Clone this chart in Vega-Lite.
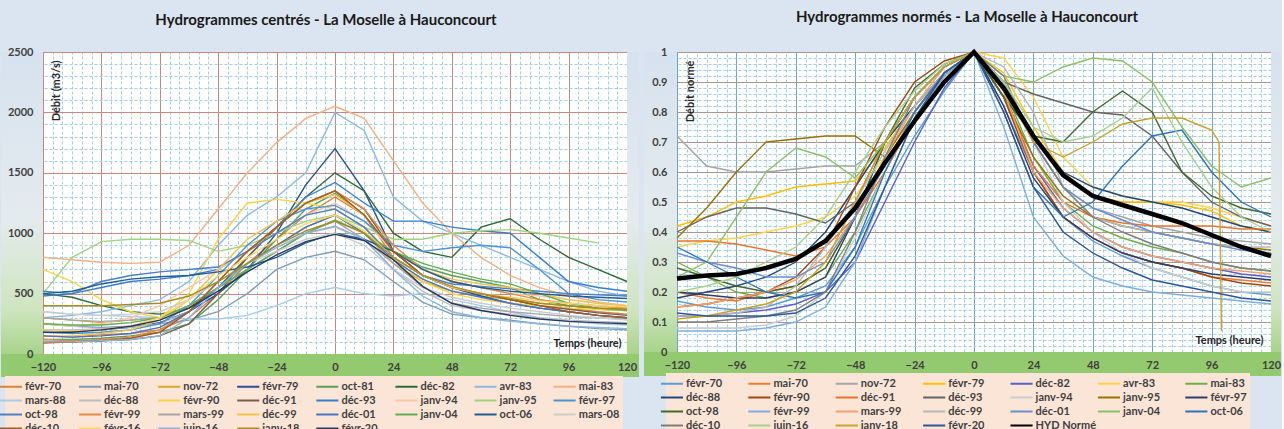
{
"$schema":"https://vega.github.io/schema/vega-lite/v6.json",
"background":"#dbe5f1",
"padding":{"left":0,"top":9,"right":0,"bottom":0},
"spacing":3,
"config":{
 "view":{"fill":"#ffffff","stroke":"#9a9a9a","strokeWidth":1},
 "font":"Lato",
 "axis":{"labelFont":"Lato","labelFontSize":11,"labelFontWeight":"bold","labelColor":"#404040","titleFont":"Lato","titleFontSize":11,"titleFontWeight":"bold","titleColor":"#262626"},
 "legend":{"symbolType":"M-2.4,0H1","symbolSize":169,"symbolStrokeWidth":2,"labelFont":"Lato","labelFontSize":11,"labelFontWeight":"bold","labelColor":"#404040","labelOffset":2,"rowPadding":1,"gridAlign":"all","fillColor":"#fbe5d6","padding":3,"labelLimit":200,"direction":"horizontal"},
 "title":{"font":"Lato","fontSize":15,"fontWeight":"bold","color":"#1a1a1a"}
},
"datasets":{
"L":[
{"s":"févr-70","t":-120,"q":150},{"s":"févr-70","t":-108,"q":140},{"s":"févr-70","t":-96,"q":160},{"s":"févr-70","t":-84,"q":170},{"s":"févr-70","t":-72,"q":200},{"s":"févr-70","t":-60,"q":300},{"s":"févr-70","t":-48,"q":500},{"s":"févr-70","t":-36,"q":750},{"s":"févr-70","t":-24,"q":950},{"s":"févr-70","t":-12,"q":1150},{"s":"févr-70","t":0,"q":1300},{"s":"févr-70","t":12,"q":1150},{"s":"févr-70","t":24,"q":800},{"s":"févr-70","t":36,"q":650},{"s":"févr-70","t":48,"q":550},{"s":"févr-70","t":60,"q":500},{"s":"févr-70","t":72,"q":450},{"s":"févr-70","t":84,"q":400},{"s":"févr-70","t":96,"q":380},{"s":"févr-70","t":108,"q":350},{"s":"févr-70","t":120,"q":330},
{"s":"mai-70","t":-120,"q":250},{"s":"mai-70","t":-108,"q":230},{"s":"mai-70","t":-96,"q":220},{"s":"mai-70","t":-84,"q":230},{"s":"mai-70","t":-72,"q":250},{"s":"mai-70","t":-60,"q":280},{"s":"mai-70","t":-48,"q":350},{"s":"mai-70","t":-36,"q":500},{"s":"mai-70","t":-24,"q":700},{"s":"mai-70","t":-12,"q":800},{"s":"mai-70","t":0,"q":850},{"s":"mai-70","t":12,"q":780},{"s":"mai-70","t":24,"q":600},{"s":"mai-70","t":36,"q":430},{"s":"mai-70","t":48,"q":330},{"s":"mai-70","t":60,"q":300},{"s":"mai-70","t":72,"q":280},{"s":"mai-70","t":84,"q":250},{"s":"mai-70","t":96,"q":230},{"s":"mai-70","t":108,"q":210},{"s":"mai-70","t":120,"q":200},
{"s":"nov-72","t":-120,"q":300},{"s":"nov-72","t":-108,"q":280},{"s":"nov-72","t":-96,"q":260},{"s":"nov-72","t":-84,"q":280},{"s":"nov-72","t":-72,"q":300},{"s":"nov-72","t":-60,"q":380},{"s":"nov-72","t":-48,"q":550},{"s":"nov-72","t":-36,"q":750},{"s":"nov-72","t":-24,"q":900},{"s":"nov-72","t":-12,"q":1050},{"s":"nov-72","t":0,"q":1150},{"s":"nov-72","t":12,"q":1000},{"s":"nov-72","t":24,"q":750},{"s":"nov-72","t":36,"q":600},{"s":"nov-72","t":48,"q":520},{"s":"nov-72","t":60,"q":480},{"s":"nov-72","t":72,"q":450},{"s":"nov-72","t":84,"q":420},{"s":"nov-72","t":96,"q":400},{"s":"nov-72","t":108,"q":380},{"s":"nov-72","t":120,"q":380},
{"s":"févr-79","t":-120,"q":200},{"s":"févr-79","t":-108,"q":190},{"s":"févr-79","t":-96,"q":200},{"s":"févr-79","t":-84,"q":220},{"s":"févr-79","t":-72,"q":260},{"s":"févr-79","t":-60,"q":350},{"s":"févr-79","t":-48,"q":500},{"s":"févr-79","t":-36,"q":700},{"s":"févr-79","t":-24,"q":1000},{"s":"févr-79","t":-12,"q":1400},{"s":"févr-79","t":0,"q":1700},{"s":"févr-79","t":12,"q":1350},{"s":"févr-79","t":24,"q":850},{"s":"févr-79","t":36,"q":650},{"s":"févr-79","t":48,"q":550},{"s":"févr-79","t":60,"q":480},{"s":"févr-79","t":72,"q":420},{"s":"févr-79","t":84,"q":380},{"s":"févr-79","t":96,"q":350},{"s":"févr-79","t":108,"q":320},{"s":"févr-79","t":120,"q":300},
{"s":"oct-81","t":-120,"q":120},{"s":"oct-81","t":-108,"q":120},{"s":"oct-81","t":-96,"q":130},{"s":"oct-81","t":-84,"q":150},{"s":"oct-81","t":-72,"q":180},{"s":"oct-81","t":-60,"q":250},{"s":"oct-81","t":-48,"q":450},{"s":"oct-81","t":-36,"q":700},{"s":"oct-81","t":-24,"q":950},{"s":"oct-81","t":-12,"q":1200},{"s":"oct-81","t":0,"q":1330},{"s":"oct-81","t":12,"q":1150},{"s":"oct-81","t":24,"q":850},{"s":"oct-81","t":36,"q":720},{"s":"oct-81","t":48,"q":650},{"s":"oct-81","t":60,"q":600},{"s":"oct-81","t":72,"q":550},{"s":"oct-81","t":84,"q":450},{"s":"oct-81","t":96,"q":400},{"s":"oct-81","t":108,"q":370},{"s":"oct-81","t":120,"q":360},
{"s":"déc-82","t":-120,"q":500},{"s":"déc-82","t":-108,"q":470},{"s":"déc-82","t":-96,"q":400},{"s":"déc-82","t":-84,"q":350},{"s":"déc-82","t":-72,"q":330},{"s":"déc-82","t":-60,"q":380},{"s":"déc-82","t":-48,"q":550},{"s":"déc-82","t":-36,"q":800},{"s":"déc-82","t":-24,"q":1050},{"s":"déc-82","t":-12,"q":1300},{"s":"déc-82","t":0,"q":1500},{"s":"déc-82","t":12,"q":1350},{"s":"déc-82","t":24,"q":1000},{"s":"déc-82","t":36,"q":850},{"s":"déc-82","t":48,"q":800},{"s":"déc-82","t":60,"q":1050},{"s":"déc-82","t":72,"q":1120},{"s":"déc-82","t":84,"q":950},{"s":"déc-82","t":96,"q":800},{"s":"déc-82","t":108,"q":700},{"s":"déc-82","t":120,"q":600},
{"s":"avr-83","t":-120,"q":300},{"s":"avr-83","t":-108,"q":320},{"s":"avr-83","t":-96,"q":350},{"s":"avr-83","t":-84,"q":400},{"s":"avr-83","t":-72,"q":450},{"s":"avr-83","t":-60,"q":600},{"s":"avr-83","t":-48,"q":900},{"s":"avr-83","t":-36,"q":1150},{"s":"avr-83","t":-24,"q":1300},{"s":"avr-83","t":-12,"q":1500},{"s":"avr-83","t":0,"q":2000},{"s":"avr-83","t":12,"q":1850},{"s":"avr-83","t":24,"q":1300},{"s":"avr-83","t":36,"q":1100},{"s":"avr-83","t":48,"q":1000},{"s":"avr-83","t":60,"q":900},{"s":"avr-83","t":72,"q":800},{"s":"avr-83","t":84,"q":700},{"s":"avr-83","t":96,"q":600},{"s":"avr-83","t":108,"q":520},{"s":"avr-83","t":120,"q":480},
{"s":"mai-83","t":-120,"q":800},{"s":"mai-83","t":-108,"q":780},{"s":"mai-83","t":-96,"q":760},{"s":"mai-83","t":-84,"q":750},{"s":"mai-83","t":-72,"q":760},{"s":"mai-83","t":-60,"q":900},{"s":"mai-83","t":-48,"q":1200},{"s":"mai-83","t":-36,"q":1500},{"s":"mai-83","t":-24,"q":1750},{"s":"mai-83","t":-12,"q":1950},{"s":"mai-83","t":0,"q":2050},{"s":"mai-83","t":12,"q":1950},{"s":"mai-83","t":24,"q":1600},{"s":"mai-83","t":36,"q":1250},{"s":"mai-83","t":48,"q":1000},{"s":"mai-83","t":60,"q":800},{"s":"mai-83","t":72,"q":650},{"s":"mai-83","t":84,"q":550},{"s":"mai-83","t":96,"q":480},{"s":"mai-83","t":108,"q":430},{"s":"mai-83","t":120,"q":400},
{"s":"mars-88","t":-120,"q":350},{"s":"mars-88","t":-108,"q":330},{"s":"mars-88","t":-96,"q":320},{"s":"mars-88","t":-84,"q":310},{"s":"mars-88","t":-72,"q":300},{"s":"mars-88","t":-60,"q":290},{"s":"mars-88","t":-48,"q":290},{"s":"mars-88","t":-36,"q":320},{"s":"mars-88","t":-24,"q":400},{"s":"mars-88","t":-12,"q":500},{"s":"mars-88","t":0,"q":550},{"s":"mars-88","t":12,"q":500},{"s":"mars-88","t":24,"q":480},{"s":"mars-88","t":36,"q":500},{"s":"mars-88","t":48,"q":450},{"s":"mars-88","t":60,"q":400},{"s":"mars-88","t":72,"q":350},{"s":"mars-88","t":84,"q":300},{"s":"mars-88","t":96,"q":270},{"s":"mars-88","t":108,"q":250},{"s":"mars-88","t":120,"q":240},
{"s":"déc-88","t":-120,"q":200},{"s":"déc-88","t":-108,"q":200},{"s":"déc-88","t":-96,"q":210},{"s":"déc-88","t":-84,"q":220},{"s":"déc-88","t":-72,"q":250},{"s":"déc-88","t":-60,"q":350},{"s":"déc-88","t":-48,"q":550},{"s":"déc-88","t":-36,"q":700},{"s":"déc-88","t":-24,"q":850},{"s":"déc-88","t":-12,"q":1000},{"s":"déc-88","t":0,"q":1050},{"s":"déc-88","t":12,"q":950},{"s":"déc-88","t":24,"q":700},{"s":"déc-88","t":36,"q":520},{"s":"déc-88","t":48,"q":400},{"s":"déc-88","t":60,"q":360},{"s":"déc-88","t":72,"q":330},{"s":"déc-88","t":84,"q":300},{"s":"déc-88","t":96,"q":280},{"s":"déc-88","t":108,"q":270},{"s":"déc-88","t":120,"q":260},
{"s":"févr-90","t":-120,"q":700},{"s":"févr-90","t":-108,"q":600},{"s":"févr-90","t":-96,"q":450},{"s":"févr-90","t":-84,"q":350},{"s":"févr-90","t":-72,"q":300},{"s":"févr-90","t":-60,"q":500},{"s":"févr-90","t":-48,"q":950},{"s":"févr-90","t":-36,"q":1250},{"s":"févr-90","t":-24,"q":1280},{"s":"févr-90","t":-12,"q":1250},{"s":"févr-90","t":0,"q":1200},{"s":"févr-90","t":12,"q":1050},{"s":"févr-90","t":24,"q":800},{"s":"févr-90","t":36,"q":600},{"s":"févr-90","t":48,"q":500},{"s":"févr-90","t":60,"q":450},{"s":"févr-90","t":72,"q":420},{"s":"févr-90","t":84,"q":400},{"s":"févr-90","t":96,"q":380},{"s":"févr-90","t":108,"q":370},{"s":"févr-90","t":120,"q":360},
{"s":"déc-91","t":-120,"q":100},{"s":"déc-91","t":-108,"q":100},{"s":"déc-91","t":-96,"q":110},{"s":"déc-91","t":-84,"q":120},{"s":"déc-91","t":-72,"q":150},{"s":"déc-91","t":-60,"q":250},{"s":"déc-91","t":-48,"q":500},{"s":"déc-91","t":-36,"q":800},{"s":"déc-91","t":-24,"q":1050},{"s":"déc-91","t":-12,"q":1250},{"s":"déc-91","t":0,"q":1350},{"s":"déc-91","t":12,"q":1200},{"s":"déc-91","t":24,"q":850},{"s":"déc-91","t":36,"q":650},{"s":"déc-91","t":48,"q":550},{"s":"déc-91","t":60,"q":500},{"s":"déc-91","t":72,"q":450},{"s":"déc-91","t":84,"q":400},{"s":"déc-91","t":96,"q":370},{"s":"déc-91","t":108,"q":340},{"s":"déc-91","t":120,"q":320},
{"s":"déc-93","t":-120,"q":480},{"s":"déc-93","t":-108,"q":500},{"s":"déc-93","t":-96,"q":550},{"s":"déc-93","t":-84,"q":600},{"s":"déc-93","t":-72,"q":620},{"s":"déc-93","t":-60,"q":650},{"s":"déc-93","t":-48,"q":700},{"s":"déc-93","t":-36,"q":850},{"s":"déc-93","t":-24,"q":1050},{"s":"déc-93","t":-12,"q":1300},{"s":"déc-93","t":0,"q":1420},{"s":"déc-93","t":12,"q":1250},{"s":"déc-93","t":24,"q":1100},{"s":"déc-93","t":36,"q":1100},{"s":"déc-93","t":48,"q":1050},{"s":"déc-93","t":60,"q":1020},{"s":"déc-93","t":72,"q":1000},{"s":"déc-93","t":84,"q":800},{"s":"déc-93","t":96,"q":600},{"s":"déc-93","t":108,"q":550},{"s":"déc-93","t":120,"q":520},
{"s":"janv-94","t":-120,"q":250},{"s":"janv-94","t":-108,"q":230},{"s":"janv-94","t":-96,"q":250},{"s":"janv-94","t":-84,"q":300},{"s":"janv-94","t":-72,"q":400},{"s":"janv-94","t":-60,"q":550},{"s":"janv-94","t":-48,"q":700},{"s":"janv-94","t":-36,"q":850},{"s":"janv-94","t":-24,"q":1000},{"s":"janv-94","t":-12,"q":1150},{"s":"janv-94","t":0,"q":1250},{"s":"janv-94","t":12,"q":1100},{"s":"janv-94","t":24,"q":850},{"s":"janv-94","t":36,"q":700},{"s":"janv-94","t":48,"q":600},{"s":"janv-94","t":60,"q":550},{"s":"janv-94","t":72,"q":500},{"s":"janv-94","t":84,"q":480},{"s":"janv-94","t":96,"q":450},{"s":"janv-94","t":108,"q":420},{"s":"janv-94","t":120,"q":400},
{"s":"janv-95","t":-120,"q":500},{"s":"janv-95","t":-108,"q":800},{"s":"janv-95","t":-96,"q":930},{"s":"janv-95","t":-84,"q":950},{"s":"janv-95","t":-72,"q":950},{"s":"janv-95","t":-60,"q":940},{"s":"janv-95","t":-48,"q":850},{"s":"janv-95","t":-36,"q":900},{"s":"janv-95","t":-24,"q":1000},{"s":"janv-95","t":-12,"q":1100},{"s":"janv-95","t":0,"q":1150},{"s":"janv-95","t":12,"q":1050},{"s":"janv-95","t":24,"q":950},{"s":"janv-95","t":36,"q":950},{"s":"janv-95","t":48,"q":1000},{"s":"janv-95","t":60,"q":1020},{"s":"janv-95","t":72,"q":1030},{"s":"janv-95","t":84,"q":1000},{"s":"janv-95","t":96,"q":960},{"s":"janv-95","t":108,"q":920},
{"s":"févr-97","t":-120,"q":180},{"s":"févr-97","t":-108,"q":170},{"s":"févr-97","t":-96,"q":180},{"s":"févr-97","t":-84,"q":200},{"s":"févr-97","t":-72,"q":250},{"s":"févr-97","t":-60,"q":400},{"s":"févr-97","t":-48,"q":650},{"s":"févr-97","t":-36,"q":900},{"s":"févr-97","t":-24,"q":1100},{"s":"févr-97","t":-12,"q":1200},{"s":"févr-97","t":0,"q":1230},{"s":"févr-97","t":12,"q":1100},{"s":"févr-97","t":24,"q":900},{"s":"févr-97","t":36,"q":850},{"s":"févr-97","t":48,"q":880},{"s":"févr-97","t":60,"q":900},{"s":"févr-97","t":72,"q":880},{"s":"févr-97","t":84,"q":700},{"s":"févr-97","t":96,"q":500},{"s":"févr-97","t":108,"q":450},{"s":"févr-97","t":120,"q":430},
{"s":"oct-98","t":-120,"q":520},{"s":"oct-98","t":-108,"q":500},{"s":"oct-98","t":-96,"q":600},{"s":"oct-98","t":-84,"q":650},{"s":"oct-98","t":-72,"q":680},{"s":"oct-98","t":-60,"q":700},{"s":"oct-98","t":-48,"q":720},{"s":"oct-98","t":-36,"q":850},{"s":"oct-98","t":-24,"q":1000},{"s":"oct-98","t":-12,"q":1150},{"s":"oct-98","t":0,"q":1200},{"s":"oct-98","t":12,"q":1050},{"s":"oct-98","t":24,"q":800},{"s":"oct-98","t":36,"q":650},{"s":"oct-98","t":48,"q":580},{"s":"oct-98","t":60,"q":560},{"s":"oct-98","t":72,"q":540},{"s":"oct-98","t":84,"q":520},{"s":"oct-98","t":96,"q":500},{"s":"oct-98","t":108,"q":490},{"s":"oct-98","t":120,"q":480},
{"s":"févr-99","t":-120,"q":120},{"s":"févr-99","t":-108,"q":110},{"s":"févr-99","t":-96,"q":120},{"s":"févr-99","t":-84,"q":140},{"s":"févr-99","t":-72,"q":200},{"s":"févr-99","t":-60,"q":350},{"s":"févr-99","t":-48,"q":600},{"s":"févr-99","t":-36,"q":850},{"s":"févr-99","t":-24,"q":1050},{"s":"févr-99","t":-12,"q":1250},{"s":"févr-99","t":0,"q":1350},{"s":"févr-99","t":12,"q":1200},{"s":"févr-99","t":24,"q":900},{"s":"févr-99","t":36,"q":700},{"s":"févr-99","t":48,"q":600},{"s":"févr-99","t":60,"q":550},{"s":"févr-99","t":72,"q":500},{"s":"févr-99","t":84,"q":450},{"s":"févr-99","t":96,"q":420},{"s":"févr-99","t":108,"q":400},{"s":"févr-99","t":120,"q":380},
{"s":"mars-99","t":-120,"q":300},{"s":"mars-99","t":-108,"q":280},{"s":"mars-99","t":-96,"q":270},{"s":"mars-99","t":-84,"q":280},{"s":"mars-99","t":-72,"q":300},{"s":"mars-99","t":-60,"q":400},{"s":"mars-99","t":-48,"q":550},{"s":"mars-99","t":-36,"q":700},{"s":"mars-99","t":-24,"q":850},{"s":"mars-99","t":-12,"q":1000},{"s":"mars-99","t":0,"q":1100},{"s":"mars-99","t":12,"q":950},{"s":"mars-99","t":24,"q":750},{"s":"mars-99","t":36,"q":560},{"s":"mars-99","t":48,"q":420},{"s":"mars-99","t":60,"q":380},{"s":"mars-99","t":72,"q":350},{"s":"mars-99","t":84,"q":330},{"s":"mars-99","t":96,"q":310},{"s":"mars-99","t":108,"q":300},{"s":"mars-99","t":120,"q":290},
{"s":"déc-99","t":-120,"q":150},{"s":"déc-99","t":-108,"q":150},{"s":"déc-99","t":-96,"q":170},{"s":"déc-99","t":-84,"q":200},{"s":"déc-99","t":-72,"q":280},{"s":"déc-99","t":-60,"q":450},{"s":"déc-99","t":-48,"q":700},{"s":"déc-99","t":-36,"q":950},{"s":"déc-99","t":-24,"q":1100},{"s":"déc-99","t":-12,"q":1250},{"s":"déc-99","t":0,"q":1320},{"s":"déc-99","t":12,"q":1150},{"s":"déc-99","t":24,"q":850},{"s":"déc-99","t":36,"q":700},{"s":"déc-99","t":48,"q":620},{"s":"déc-99","t":60,"q":580},{"s":"déc-99","t":72,"q":550},{"s":"déc-99","t":84,"q":500},{"s":"déc-99","t":96,"q":450},{"s":"déc-99","t":108,"q":420},{"s":"déc-99","t":120,"q":400},
{"s":"déc-01","t":-120,"q":150},{"s":"déc-01","t":-108,"q":140},{"s":"déc-01","t":-96,"q":150},{"s":"déc-01","t":-84,"q":170},{"s":"déc-01","t":-72,"q":220},{"s":"déc-01","t":-60,"q":350},{"s":"déc-01","t":-48,"q":550},{"s":"déc-01","t":-36,"q":750},{"s":"déc-01","t":-24,"q":900},{"s":"déc-01","t":-12,"q":1050},{"s":"déc-01","t":0,"q":1150},{"s":"déc-01","t":12,"q":1000},{"s":"déc-01","t":24,"q":780},{"s":"déc-01","t":36,"q":620},{"s":"déc-01","t":48,"q":520},{"s":"déc-01","t":60,"q":470},{"s":"déc-01","t":72,"q":420},{"s":"déc-01","t":84,"q":380},{"s":"déc-01","t":96,"q":350},{"s":"déc-01","t":108,"q":320},{"s":"déc-01","t":120,"q":300},
{"s":"janv-04","t":-120,"q":250},{"s":"janv-04","t":-108,"q":240},{"s":"janv-04","t":-96,"q":240},{"s":"janv-04","t":-84,"q":260},{"s":"janv-04","t":-72,"q":300},{"s":"janv-04","t":-60,"q":400},{"s":"janv-04","t":-48,"q":550},{"s":"janv-04","t":-36,"q":700},{"s":"janv-04","t":-24,"q":850},{"s":"janv-04","t":-12,"q":1000},{"s":"janv-04","t":0,"q":1110},{"s":"janv-04","t":12,"q":1000},{"s":"janv-04","t":24,"q":850},{"s":"janv-04","t":36,"q":750},{"s":"janv-04","t":48,"q":680},{"s":"janv-04","t":60,"q":620},{"s":"janv-04","t":72,"q":580},{"s":"janv-04","t":84,"q":500},{"s":"janv-04","t":96,"q":420},{"s":"janv-04","t":108,"q":380},{"s":"janv-04","t":120,"q":360},
{"s":"oct-06","t":-120,"q":500},{"s":"oct-06","t":-108,"q":520},{"s":"oct-06","t":-96,"q":580},{"s":"oct-06","t":-84,"q":620},{"s":"oct-06","t":-72,"q":640},{"s":"oct-06","t":-60,"q":650},{"s":"oct-06","t":-48,"q":680},{"s":"oct-06","t":-36,"q":720},{"s":"oct-06","t":-24,"q":800},{"s":"oct-06","t":-12,"q":920},{"s":"oct-06","t":0,"q":1000},{"s":"oct-06","t":12,"q":950},{"s":"oct-06","t":24,"q":850},{"s":"oct-06","t":36,"q":700},{"s":"oct-06","t":48,"q":600},{"s":"oct-06","t":60,"q":550},{"s":"oct-06","t":72,"q":520},{"s":"oct-06","t":84,"q":500},{"s":"oct-06","t":96,"q":480},{"s":"oct-06","t":108,"q":470},{"s":"oct-06","t":120,"q":460},
{"s":"mars-08","t":-120,"q":350},{"s":"mars-08","t":-108,"q":330},{"s":"mars-08","t":-96,"q":320},{"s":"mars-08","t":-84,"q":330},{"s":"mars-08","t":-72,"q":350},{"s":"mars-08","t":-60,"q":450},{"s":"mars-08","t":-48,"q":600},{"s":"mars-08","t":-36,"q":750},{"s":"mars-08","t":-24,"q":850},{"s":"mars-08","t":-12,"q":950},{"s":"mars-08","t":0,"q":1000},{"s":"mars-08","t":12,"q":900},{"s":"mars-08","t":24,"q":700},{"s":"mars-08","t":36,"q":550},{"s":"mars-08","t":48,"q":470},{"s":"mars-08","t":60,"q":420},{"s":"mars-08","t":72,"q":380},{"s":"mars-08","t":84,"q":350},{"s":"mars-08","t":96,"q":320},{"s":"mars-08","t":108,"q":300},{"s":"mars-08","t":120,"q":280},
{"s":"déc-10","t":-120,"q":90},{"s":"déc-10","t":-108,"q":100},{"s":"déc-10","t":-96,"q":110},{"s":"déc-10","t":-84,"q":130},{"s":"déc-10","t":-72,"q":180},{"s":"déc-10","t":-60,"q":350},{"s":"déc-10","t":-48,"q":600},{"s":"déc-10","t":-36,"q":850},{"s":"déc-10","t":-24,"q":1050},{"s":"déc-10","t":-12,"q":1250},{"s":"déc-10","t":0,"q":1350},{"s":"déc-10","t":12,"q":1150},{"s":"déc-10","t":24,"q":850},{"s":"déc-10","t":36,"q":650},{"s":"déc-10","t":48,"q":550},{"s":"déc-10","t":60,"q":500},{"s":"déc-10","t":72,"q":450},{"s":"déc-10","t":84,"q":400},{"s":"déc-10","t":96,"q":350},{"s":"déc-10","t":108,"q":320},{"s":"déc-10","t":120,"q":300},
{"s":"févr-16","t":-120,"q":200},{"s":"févr-16","t":-108,"q":190},{"s":"févr-16","t":-96,"q":200},{"s":"févr-16","t":-84,"q":230},{"s":"févr-16","t":-72,"q":300},{"s":"févr-16","t":-60,"q":450},{"s":"févr-16","t":-48,"q":650},{"s":"févr-16","t":-36,"q":800},{"s":"févr-16","t":-24,"q":950},{"s":"févr-16","t":-12,"q":1080},{"s":"févr-16","t":0,"q":1150},{"s":"févr-16","t":12,"q":1020},{"s":"févr-16","t":24,"q":800},{"s":"févr-16","t":36,"q":650},{"s":"févr-16","t":48,"q":550},{"s":"févr-16","t":60,"q":500},{"s":"févr-16","t":72,"q":470},{"s":"févr-16","t":84,"q":440},{"s":"févr-16","t":96,"q":420},{"s":"févr-16","t":108,"q":400},{"s":"févr-16","t":120,"q":390},
{"s":"juin-16","t":-120,"q":100},{"s":"juin-16","t":-108,"q":100},{"s":"juin-16","t":-96,"q":110},{"s":"juin-16","t":-84,"q":120},{"s":"juin-16","t":-72,"q":150},{"s":"juin-16","t":-60,"q":300},{"s":"juin-16","t":-48,"q":550},{"s":"juin-16","t":-36,"q":750},{"s":"juin-16","t":-24,"q":880},{"s":"juin-16","t":-12,"q":1000},{"s":"juin-16","t":0,"q":1060},{"s":"juin-16","t":12,"q":950},{"s":"juin-16","t":24,"q":700},{"s":"juin-16","t":36,"q":480},{"s":"juin-16","t":48,"q":350},{"s":"juin-16","t":60,"q":300},{"s":"juin-16","t":72,"q":270},{"s":"juin-16","t":84,"q":250},{"s":"juin-16","t":96,"q":230},{"s":"juin-16","t":108,"q":220},{"s":"juin-16","t":120,"q":210},
{"s":"janv-18","t":-120,"q":400},{"s":"janv-18","t":-108,"q":400},{"s":"janv-18","t":-96,"q":400},{"s":"janv-18","t":-84,"q":410},{"s":"janv-18","t":-72,"q":420},{"s":"janv-18","t":-60,"q":480},{"s":"janv-18","t":-48,"q":600},{"s":"janv-18","t":-36,"q":750},{"s":"janv-18","t":-24,"q":900},{"s":"janv-18","t":-12,"q":1020},{"s":"janv-18","t":0,"q":1100},{"s":"janv-18","t":12,"q":1000},{"s":"janv-18","t":24,"q":800},{"s":"janv-18","t":36,"q":650},{"s":"janv-18","t":48,"q":560},{"s":"janv-18","t":60,"q":500},{"s":"janv-18","t":72,"q":460},{"s":"janv-18","t":84,"q":420},{"s":"janv-18","t":96,"q":400},{"s":"janv-18","t":108,"q":380},{"s":"janv-18","t":120,"q":370},
{"s":"févr-20","t":-120,"q":180},{"s":"févr-20","t":-108,"q":180},{"s":"févr-20","t":-96,"q":200},{"s":"févr-20","t":-84,"q":230},{"s":"févr-20","t":-72,"q":280},{"s":"févr-20","t":-60,"q":380},{"s":"févr-20","t":-48,"q":520},{"s":"févr-20","t":-36,"q":680},{"s":"févr-20","t":-24,"q":820},{"s":"févr-20","t":-12,"q":930},{"s":"févr-20","t":0,"q":990},{"s":"févr-20","t":12,"q":940},{"s":"févr-20","t":24,"q":780},{"s":"févr-20","t":36,"q":560},{"s":"févr-20","t":48,"q":420},{"s":"févr-20","t":60,"q":360},{"s":"févr-20","t":72,"q":320},{"s":"févr-20","t":84,"q":290},{"s":"févr-20","t":96,"q":270},{"s":"févr-20","t":108,"q":260},{"s":"févr-20","t":120,"q":250}
],
"R":[
{"s":"févr-70","t":-120,"q":0.17},{"s":"févr-70","t":-108,"q":0.15},{"s":"févr-70","t":-96,"q":0.14},{"s":"févr-70","t":-84,"q":0.15},{"s":"févr-70","t":-72,"q":0.18},{"s":"févr-70","t":-60,"q":0.22},{"s":"févr-70","t":-48,"q":0.35},{"s":"févr-70","t":-36,"q":0.55},{"s":"févr-70","t":-24,"q":0.72},{"s":"févr-70","t":-12,"q":0.87},{"s":"févr-70","t":0,"q":1},{"s":"févr-70","t":12,"q":0.82},{"s":"févr-70","t":24,"q":0.6},{"s":"févr-70","t":36,"q":0.45},{"s":"févr-70","t":48,"q":0.37},{"s":"févr-70","t":60,"q":0.32},{"s":"févr-70","t":72,"q":0.28},{"s":"févr-70","t":84,"q":0.25},{"s":"févr-70","t":96,"q":0.22},{"s":"févr-70","t":108,"q":0.2},{"s":"févr-70","t":120,"q":0.19},
{"s":"mai-70","t":-120,"q":0.2},{"s":"mai-70","t":-108,"q":0.18},{"s":"mai-70","t":-96,"q":0.17},{"s":"mai-70","t":-84,"q":0.2},{"s":"mai-70","t":-72,"q":0.22},{"s":"mai-70","t":-60,"q":0.28},{"s":"mai-70","t":-48,"q":0.45},{"s":"mai-70","t":-36,"q":0.65},{"s":"mai-70","t":-24,"q":0.8},{"s":"mai-70","t":-12,"q":0.92},{"s":"mai-70","t":0,"q":1},{"s":"mai-70","t":12,"q":0.85},{"s":"mai-70","t":24,"q":0.6},{"s":"mai-70","t":36,"q":0.45},{"s":"mai-70","t":48,"q":0.38},{"s":"mai-70","t":60,"q":0.33},{"s":"mai-70","t":72,"q":0.3},{"s":"mai-70","t":84,"q":0.28},{"s":"mai-70","t":96,"q":0.25},{"s":"mai-70","t":108,"q":0.24},{"s":"mai-70","t":120,"q":0.23},
{"s":"nov-72","t":-120,"q":0.72},{"s":"nov-72","t":-108,"q":0.62},{"s":"nov-72","t":-96,"q":0.6},{"s":"nov-72","t":-84,"q":0.6},{"s":"nov-72","t":-72,"q":0.61},{"s":"nov-72","t":-60,"q":0.62},{"s":"nov-72","t":-48,"q":0.62},{"s":"nov-72","t":-36,"q":0.7},{"s":"nov-72","t":-24,"q":0.82},{"s":"nov-72","t":-12,"q":0.93},{"s":"nov-72","t":0,"q":1},{"s":"nov-72","t":12,"q":0.9},{"s":"nov-72","t":24,"q":0.7},{"s":"nov-72","t":36,"q":0.55},{"s":"nov-72","t":48,"q":0.48},{"s":"nov-72","t":60,"q":0.45},{"s":"nov-72","t":72,"q":0.42},{"s":"nov-72","t":84,"q":0.4},{"s":"nov-72","t":96,"q":0.38},{"s":"nov-72","t":108,"q":0.37},{"s":"nov-72","t":120,"q":0.36},
{"s":"févr-79","t":-120,"q":0.42},{"s":"févr-79","t":-108,"q":0.45},{"s":"févr-79","t":-96,"q":0.5},{"s":"févr-79","t":-84,"q":0.52},{"s":"févr-79","t":-72,"q":0.55},{"s":"févr-79","t":-60,"q":0.56},{"s":"févr-79","t":-48,"q":0.57},{"s":"févr-79","t":-36,"q":0.68},{"s":"févr-79","t":-24,"q":0.82},{"s":"févr-79","t":-12,"q":0.93},{"s":"févr-79","t":0,"q":1},{"s":"févr-79","t":12,"q":0.93},{"s":"févr-79","t":24,"q":0.75},{"s":"févr-79","t":36,"q":0.6},{"s":"févr-79","t":48,"q":0.52},{"s":"févr-79","t":60,"q":0.5},{"s":"févr-79","t":72,"q":0.5},{"s":"févr-79","t":84,"q":0.49},{"s":"févr-79","t":96,"q":0.47},{"s":"févr-79","t":108,"q":0.42},{"s":"févr-79","t":120,"q":0.4},
{"s":"déc-82","t":-120,"q":0.12},{"s":"déc-82","t":-108,"q":0.12},{"s":"déc-82","t":-96,"q":0.13},{"s":"déc-82","t":-84,"q":0.14},{"s":"déc-82","t":-72,"q":0.16},{"s":"déc-82","t":-60,"q":0.2},{"s":"déc-82","t":-48,"q":0.3},{"s":"déc-82","t":-36,"q":0.5},{"s":"déc-82","t":-24,"q":0.7},{"s":"déc-82","t":-12,"q":0.88},{"s":"déc-82","t":0,"q":1},{"s":"déc-82","t":12,"q":0.85},{"s":"déc-82","t":24,"q":0.62},{"s":"déc-82","t":36,"q":0.48},{"s":"déc-82","t":48,"q":0.4},{"s":"déc-82","t":60,"q":0.35},{"s":"déc-82","t":72,"q":0.32},{"s":"déc-82","t":84,"q":0.3},{"s":"déc-82","t":96,"q":0.28},{"s":"déc-82","t":108,"q":0.26},{"s":"déc-82","t":120,"q":0.25},
{"s":"avr-83","t":-120,"q":0.35},{"s":"avr-83","t":-108,"q":0.37},{"s":"avr-83","t":-96,"q":0.38},{"s":"avr-83","t":-84,"q":0.4},{"s":"avr-83","t":-72,"q":0.42},{"s":"avr-83","t":-60,"q":0.45},{"s":"avr-83","t":-48,"q":0.52},{"s":"avr-83","t":-36,"q":0.65},{"s":"avr-83","t":-24,"q":0.8},{"s":"avr-83","t":-12,"q":0.93},{"s":"avr-83","t":0,"q":1},{"s":"avr-83","t":12,"q":0.98},{"s":"avr-83","t":24,"q":0.85},{"s":"avr-83","t":36,"q":0.65},{"s":"avr-83","t":48,"q":0.55},{"s":"avr-83","t":60,"q":0.52},{"s":"avr-83","t":72,"q":0.5},{"s":"avr-83","t":84,"q":0.5},{"s":"avr-83","t":96,"q":0.48},{"s":"avr-83","t":108,"q":0.45},{"s":"avr-83","t":120,"q":0.42},
{"s":"mai-83","t":-120,"q":0.3},{"s":"mai-83","t":-108,"q":0.25},{"s":"mai-83","t":-96,"q":0.2},{"s":"mai-83","t":-84,"q":0.18},{"s":"mai-83","t":-72,"q":0.2},{"s":"mai-83","t":-60,"q":0.25},{"s":"mai-83","t":-48,"q":0.4},{"s":"mai-83","t":-36,"q":0.6},{"s":"mai-83","t":-24,"q":0.8},{"s":"mai-83","t":-12,"q":0.93},{"s":"mai-83","t":0,"q":1},{"s":"mai-83","t":12,"q":0.88},{"s":"mai-83","t":24,"q":0.65},{"s":"mai-83","t":36,"q":0.5},{"s":"mai-83","t":48,"q":0.42},{"s":"mai-83","t":60,"q":0.38},{"s":"mai-83","t":72,"q":0.35},{"s":"mai-83","t":84,"q":0.33},{"s":"mai-83","t":96,"q":0.3},{"s":"mai-83","t":108,"q":0.28},{"s":"mai-83","t":120,"q":0.27},
{"s":"déc-88","t":-120,"q":0.18},{"s":"déc-88","t":-108,"q":0.2},{"s":"déc-88","t":-96,"q":0.22},{"s":"déc-88","t":-84,"q":0.25},{"s":"déc-88","t":-72,"q":0.3},{"s":"déc-88","t":-60,"q":0.4},{"s":"déc-88","t":-48,"q":0.55},{"s":"déc-88","t":-36,"q":0.7},{"s":"déc-88","t":-24,"q":0.82},{"s":"déc-88","t":-12,"q":0.93},{"s":"déc-88","t":0,"q":1},{"s":"déc-88","t":12,"q":0.9},{"s":"déc-88","t":24,"q":0.72},{"s":"déc-88","t":36,"q":0.6},{"s":"déc-88","t":48,"q":0.55},{"s":"déc-88","t":60,"q":0.52},{"s":"déc-88","t":72,"q":0.5},{"s":"déc-88","t":84,"q":0.48},{"s":"déc-88","t":96,"q":0.45},{"s":"déc-88","t":108,"q":0.42},{"s":"déc-88","t":120,"q":0.4},
{"s":"févr-90","t":-120,"q":0.15},{"s":"févr-90","t":-108,"q":0.16},{"s":"févr-90","t":-96,"q":0.18},{"s":"févr-90","t":-84,"q":0.2},{"s":"févr-90","t":-72,"q":0.25},{"s":"févr-90","t":-60,"q":0.35},{"s":"févr-90","t":-48,"q":0.55},{"s":"févr-90","t":-36,"q":0.75},{"s":"févr-90","t":-24,"q":0.9},{"s":"févr-90","t":-12,"q":0.97},{"s":"févr-90","t":0,"q":1},{"s":"févr-90","t":12,"q":0.85},{"s":"févr-90","t":24,"q":0.6},{"s":"févr-90","t":36,"q":0.45},{"s":"févr-90","t":48,"q":0.38},{"s":"févr-90","t":60,"q":0.33},{"s":"févr-90","t":72,"q":0.3},{"s":"févr-90","t":84,"q":0.28},{"s":"févr-90","t":96,"q":0.25},{"s":"févr-90","t":108,"q":0.23},{"s":"févr-90","t":120,"q":0.22},
{"s":"déc-91","t":-120,"q":0.37},{"s":"déc-91","t":-108,"q":0.37},{"s":"déc-91","t":-96,"q":0.36},{"s":"déc-91","t":-84,"q":0.34},{"s":"déc-91","t":-72,"q":0.32},{"s":"déc-91","t":-60,"q":0.35},{"s":"déc-91","t":-48,"q":0.45},{"s":"déc-91","t":-36,"q":0.6},{"s":"déc-91","t":-24,"q":0.78},{"s":"déc-91","t":-12,"q":0.92},{"s":"déc-91","t":0,"q":1},{"s":"déc-91","t":12,"q":0.87},{"s":"déc-91","t":24,"q":0.62},{"s":"déc-91","t":36,"q":0.5},{"s":"déc-91","t":48,"q":0.45},{"s":"déc-91","t":60,"q":0.43},{"s":"déc-91","t":72,"q":0.42},{"s":"déc-91","t":84,"q":0.42},{"s":"déc-91","t":96,"q":0.42},{"s":"déc-91","t":108,"q":0.41},{"s":"déc-91","t":120,"q":0.41},
{"s":"déc-93","t":-120,"q":0.4},{"s":"déc-93","t":-108,"q":0.45},{"s":"déc-93","t":-96,"q":0.48},{"s":"déc-93","t":-84,"q":0.48},{"s":"déc-93","t":-72,"q":0.46},{"s":"déc-93","t":-60,"q":0.43},{"s":"déc-93","t":-48,"q":0.5},{"s":"déc-93","t":-36,"q":0.7},{"s":"déc-93","t":-24,"q":0.85},{"s":"déc-93","t":-12,"q":0.95},{"s":"déc-93","t":0,"q":1},{"s":"déc-93","t":12,"q":0.9},{"s":"déc-93","t":24,"q":0.86},{"s":"déc-93","t":36,"q":0.83},{"s":"déc-93","t":48,"q":0.8},{"s":"déc-93","t":60,"q":0.79},{"s":"déc-93","t":72,"q":0.72},{"s":"déc-93","t":84,"q":0.6},{"s":"déc-93","t":96,"q":0.5},{"s":"déc-93","t":108,"q":0.45},{"s":"déc-93","t":120,"q":0.42},
{"s":"janv-94","t":-120,"q":0.08},{"s":"janv-94","t":-108,"q":0.08},{"s":"janv-94","t":-96,"q":0.08},{"s":"janv-94","t":-84,"q":0.09},{"s":"janv-94","t":-72,"q":0.12},{"s":"janv-94","t":-60,"q":0.2},{"s":"janv-94","t":-48,"q":0.38},{"s":"janv-94","t":-36,"q":0.6},{"s":"janv-94","t":-24,"q":0.8},{"s":"janv-94","t":-12,"q":0.93},{"s":"janv-94","t":0,"q":1},{"s":"janv-94","t":12,"q":0.9},{"s":"janv-94","t":24,"q":0.7},{"s":"janv-94","t":36,"q":0.5},{"s":"janv-94","t":48,"q":0.4},{"s":"janv-94","t":60,"q":0.33},{"s":"janv-94","t":72,"q":0.28},{"s":"janv-94","t":84,"q":0.25},{"s":"janv-94","t":96,"q":0.22},{"s":"janv-94","t":108,"q":0.2},{"s":"janv-94","t":120,"q":0.2},
{"s":"janv-95","t":-120,"q":0.38},{"s":"janv-95","t":-108,"q":0.48},{"s":"janv-95","t":-96,"q":0.6},{"s":"janv-95","t":-84,"q":0.7},{"s":"janv-95","t":-72,"q":0.71},{"s":"janv-95","t":-60,"q":0.72},{"s":"janv-95","t":-48,"q":0.72},{"s":"janv-95","t":-36,"q":0.65},{"s":"janv-95","t":-24,"q":0.8},{"s":"janv-95","t":-12,"q":0.93},{"s":"janv-95","t":0,"q":1},{"s":"janv-95","t":12,"q":0.85},{"s":"janv-95","t":24,"q":0.65},{"s":"janv-95","t":36,"q":0.52},{"s":"janv-95","t":48,"q":0.45},{"s":"janv-95","t":60,"q":0.42},{"s":"janv-95","t":72,"q":0.4},{"s":"janv-95","t":84,"q":0.38},{"s":"janv-95","t":96,"q":0.36},{"s":"janv-95","t":108,"q":0.35},{"s":"janv-95","t":120,"q":0.34},
{"s":"févr-97","t":-120,"q":0.2},{"s":"févr-97","t":-108,"q":0.19},{"s":"févr-97","t":-96,"q":0.18},{"s":"févr-97","t":-84,"q":0.18},{"s":"févr-97","t":-72,"q":0.2},{"s":"févr-97","t":-60,"q":0.25},{"s":"févr-97","t":-48,"q":0.45},{"s":"févr-97","t":-36,"q":0.7},{"s":"févr-97","t":-24,"q":0.85},{"s":"févr-97","t":-12,"q":0.95},{"s":"févr-97","t":0,"q":1},{"s":"févr-97","t":12,"q":0.82},{"s":"févr-97","t":24,"q":0.58},{"s":"févr-97","t":36,"q":0.45},{"s":"févr-97","t":48,"q":0.38},{"s":"févr-97","t":60,"q":0.33},{"s":"févr-97","t":72,"q":0.3},{"s":"févr-97","t":84,"q":0.28},{"s":"févr-97","t":96,"q":0.26},{"s":"févr-97","t":108,"q":0.25},{"s":"févr-97","t":120,"q":0.24},
{"s":"oct-98","t":-120,"q":0.28},{"s":"oct-98","t":-108,"q":0.25},{"s":"oct-98","t":-96,"q":0.22},{"s":"oct-98","t":-84,"q":0.2},{"s":"oct-98","t":-72,"q":0.22},{"s":"oct-98","t":-60,"q":0.28},{"s":"oct-98","t":-48,"q":0.45},{"s":"oct-98","t":-36,"q":0.7},{"s":"oct-98","t":-24,"q":0.88},{"s":"oct-98","t":-12,"q":0.96},{"s":"oct-98","t":0,"q":1},{"s":"oct-98","t":12,"q":0.85},{"s":"oct-98","t":24,"q":0.72},{"s":"oct-98","t":36,"q":0.7},{"s":"oct-98","t":48,"q":0.8},{"s":"oct-98","t":60,"q":0.87},{"s":"oct-98","t":72,"q":0.8},{"s":"oct-98","t":84,"q":0.6},{"s":"oct-98","t":96,"q":0.52},{"s":"oct-98","t":108,"q":0.48},{"s":"oct-98","t":120,"q":0.46},
{"s":"févr-99","t":-120,"q":0.07},{"s":"févr-99","t":-108,"q":0.07},{"s":"févr-99","t":-96,"q":0.07},{"s":"févr-99","t":-84,"q":0.08},{"s":"févr-99","t":-72,"q":0.1},{"s":"févr-99","t":-60,"q":0.15},{"s":"févr-99","t":-48,"q":0.3},{"s":"févr-99","t":-36,"q":0.55},{"s":"févr-99","t":-24,"q":0.78},{"s":"févr-99","t":-12,"q":0.92},{"s":"févr-99","t":0,"q":1},{"s":"févr-99","t":12,"q":0.75},{"s":"févr-99","t":24,"q":0.45},{"s":"févr-99","t":36,"q":0.32},{"s":"févr-99","t":48,"q":0.25},{"s":"févr-99","t":60,"q":0.22},{"s":"févr-99","t":72,"q":0.2},{"s":"févr-99","t":84,"q":0.19},{"s":"févr-99","t":96,"q":0.18},{"s":"févr-99","t":108,"q":0.17},{"s":"févr-99","t":120,"q":0.16},
{"s":"mars-99","t":-120,"q":0.15},{"s":"mars-99","t":-108,"q":0.16},{"s":"mars-99","t":-96,"q":0.18},{"s":"mars-99","t":-84,"q":0.2},{"s":"mars-99","t":-72,"q":0.24},{"s":"mars-99","t":-60,"q":0.32},{"s":"mars-99","t":-48,"q":0.45},{"s":"mars-99","t":-36,"q":0.65},{"s":"mars-99","t":-24,"q":0.82},{"s":"mars-99","t":-12,"q":0.95},{"s":"mars-99","t":0,"q":1},{"s":"mars-99","t":12,"q":0.87},{"s":"mars-99","t":24,"q":0.6},{"s":"mars-99","t":36,"q":0.48},{"s":"mars-99","t":48,"q":0.4},{"s":"mars-99","t":60,"q":0.35},{"s":"mars-99","t":72,"q":0.32},{"s":"mars-99","t":84,"q":0.3},{"s":"mars-99","t":96,"q":0.28},{"s":"mars-99","t":108,"q":0.27},{"s":"mars-99","t":120,"q":0.26},
{"s":"déc-99","t":-120,"q":0.12},{"s":"déc-99","t":-108,"q":0.12},{"s":"déc-99","t":-96,"q":0.13},{"s":"déc-99","t":-84,"q":0.15},{"s":"déc-99","t":-72,"q":0.22},{"s":"déc-99","t":-60,"q":0.35},{"s":"déc-99","t":-48,"q":0.5},{"s":"déc-99","t":-36,"q":0.67},{"s":"déc-99","t":-24,"q":0.82},{"s":"déc-99","t":-12,"q":0.93},{"s":"déc-99","t":0,"q":1},{"s":"déc-99","t":12,"q":0.95},{"s":"déc-99","t":24,"q":0.8},{"s":"déc-99","t":36,"q":0.55},{"s":"déc-99","t":48,"q":0.45},{"s":"déc-99","t":60,"q":0.42},{"s":"déc-99","t":72,"q":0.4},{"s":"déc-99","t":84,"q":0.38},{"s":"déc-99","t":96,"q":0.36},{"s":"déc-99","t":108,"q":0.35},{"s":"déc-99","t":120,"q":0.35},
{"s":"déc-01","t":-120,"q":0.33},{"s":"déc-01","t":-108,"q":0.3},{"s":"déc-01","t":-96,"q":0.28},{"s":"déc-01","t":-84,"q":0.25},{"s":"déc-01","t":-72,"q":0.25},{"s":"déc-01","t":-60,"q":0.3},{"s":"déc-01","t":-48,"q":0.45},{"s":"déc-01","t":-36,"q":0.62},{"s":"déc-01","t":-24,"q":0.8},{"s":"déc-01","t":-12,"q":0.93},{"s":"déc-01","t":0,"q":1},{"s":"déc-01","t":12,"q":0.9},{"s":"déc-01","t":24,"q":0.7},{"s":"déc-01","t":36,"q":0.55},{"s":"déc-01","t":48,"q":0.48},{"s":"déc-01","t":60,"q":0.44},{"s":"déc-01","t":72,"q":0.4},{"s":"déc-01","t":84,"q":0.38},{"s":"déc-01","t":96,"q":0.36},{"s":"déc-01","t":108,"q":0.34},{"s":"déc-01","t":120,"q":0.33},
{"s":"janv-04","t":-120,"q":0.25},{"s":"janv-04","t":-108,"q":0.3},{"s":"janv-04","t":-96,"q":0.45},{"s":"janv-04","t":-84,"q":0.6},{"s":"janv-04","t":-72,"q":0.68},{"s":"janv-04","t":-60,"q":0.65},{"s":"janv-04","t":-48,"q":0.58},{"s":"janv-04","t":-36,"q":0.7},{"s":"janv-04","t":-24,"q":0.85},{"s":"janv-04","t":-12,"q":0.95},{"s":"janv-04","t":0,"q":1},{"s":"janv-04","t":12,"q":0.92},{"s":"janv-04","t":24,"q":0.9},{"s":"janv-04","t":36,"q":0.95},{"s":"janv-04","t":48,"q":0.98},{"s":"janv-04","t":60,"q":0.97},{"s":"janv-04","t":72,"q":0.9},{"s":"janv-04","t":84,"q":0.75},{"s":"janv-04","t":96,"q":0.62},{"s":"janv-04","t":108,"q":0.55},{"s":"janv-04","t":120,"q":0.58},
{"s":"oct-06","t":-120,"q":0.35},{"s":"oct-06","t":-108,"q":0.3},{"s":"oct-06","t":-96,"q":0.25},{"s":"oct-06","t":-84,"q":0.2},{"s":"oct-06","t":-72,"q":0.18},{"s":"oct-06","t":-60,"q":0.2},{"s":"oct-06","t":-48,"q":0.35},{"s":"oct-06","t":-36,"q":0.6},{"s":"oct-06","t":-24,"q":0.8},{"s":"oct-06","t":-12,"q":0.93},{"s":"oct-06","t":0,"q":1},{"s":"oct-06","t":12,"q":0.8},{"s":"oct-06","t":24,"q":0.55},{"s":"oct-06","t":36,"q":0.45},{"s":"oct-06","t":48,"q":0.5},{"s":"oct-06","t":60,"q":0.62},{"s":"oct-06","t":72,"q":0.72},{"s":"oct-06","t":84,"q":0.74},{"s":"oct-06","t":96,"q":0.6},{"s":"oct-06","t":108,"q":0.5},{"s":"oct-06","t":120,"q":0.45},
{"s":"déc-10","t":-120,"q":0.1},{"s":"déc-10","t":-108,"q":0.1},{"s":"déc-10","t":-96,"q":0.11},{"s":"déc-10","t":-84,"q":0.12},{"s":"déc-10","t":-72,"q":0.14},{"s":"déc-10","t":-60,"q":0.2},{"s":"déc-10","t":-48,"q":0.4},{"s":"déc-10","t":-36,"q":0.65},{"s":"déc-10","t":-24,"q":0.85},{"s":"déc-10","t":-12,"q":0.95},{"s":"déc-10","t":0,"q":1},{"s":"déc-10","t":12,"q":0.92},{"s":"déc-10","t":24,"q":0.7},{"s":"déc-10","t":36,"q":0.55},{"s":"déc-10","t":48,"q":0.45},{"s":"déc-10","t":60,"q":0.4},{"s":"déc-10","t":72,"q":0.36},{"s":"déc-10","t":84,"q":0.33},{"s":"déc-10","t":96,"q":0.3},{"s":"déc-10","t":108,"q":0.28},{"s":"déc-10","t":120,"q":0.27},
{"s":"juin-16","t":-120,"q":0.2},{"s":"juin-16","t":-108,"q":0.22},{"s":"juin-16","t":-96,"q":0.25},{"s":"juin-16","t":-84,"q":0.3},{"s":"juin-16","t":-72,"q":0.35},{"s":"juin-16","t":-60,"q":0.45},{"s":"juin-16","t":-48,"q":0.6},{"s":"juin-16","t":-36,"q":0.75},{"s":"juin-16","t":-24,"q":0.87},{"s":"juin-16","t":-12,"q":0.96},{"s":"juin-16","t":0,"q":1},{"s":"juin-16","t":12,"q":0.9},{"s":"juin-16","t":24,"q":0.75},{"s":"juin-16","t":36,"q":0.7},{"s":"juin-16","t":48,"q":0.72},{"s":"juin-16","t":60,"q":0.78},{"s":"juin-16","t":72,"q":0.88},{"s":"juin-16","t":84,"q":0.7},{"s":"juin-16","t":96,"q":0.55},{"s":"juin-16","t":108,"q":0.45},{"s":"juin-16","t":120,"q":0.4},
{"s":"janv-18","t":-120,"q":0.11},{"s":"janv-18","t":-108,"q":0.12},{"s":"janv-18","t":-96,"q":0.14},{"s":"janv-18","t":-84,"q":0.16},{"s":"janv-18","t":-72,"q":0.2},{"s":"janv-18","t":-60,"q":0.3},{"s":"janv-18","t":-48,"q":0.5},{"s":"janv-18","t":-36,"q":0.7},{"s":"janv-18","t":-24,"q":0.85},{"s":"janv-18","t":-12,"q":0.95},{"s":"janv-18","t":0,"q":1},{"s":"janv-18","t":12,"q":0.88},{"s":"janv-18","t":24,"q":0.7},{"s":"janv-18","t":36,"q":0.65},{"s":"janv-18","t":48,"q":0.7},{"s":"janv-18","t":60,"q":0.76},{"s":"janv-18","t":72,"q":0.78},{"s":"janv-18","t":84,"q":0.78},{"s":"janv-18","t":96,"q":0.74},{"s":"janv-18","t":99,"q":0.7},{"s":"janv-18","t":100,"q":0.07},
{"s":"févr-20","t":-120,"q":0.13},{"s":"févr-20","t":-108,"q":0.12},{"s":"févr-20","t":-96,"q":0.12},{"s":"févr-20","t":-84,"q":0.12},{"s":"févr-20","t":-72,"q":0.13},{"s":"févr-20","t":-60,"q":0.18},{"s":"févr-20","t":-48,"q":0.32},{"s":"févr-20","t":-36,"q":0.55},{"s":"févr-20","t":-24,"q":0.78},{"s":"févr-20","t":-12,"q":0.93},{"s":"févr-20","t":0,"q":1},{"s":"févr-20","t":12,"q":0.8},{"s":"févr-20","t":24,"q":0.55},{"s":"févr-20","t":36,"q":0.4},{"s":"févr-20","t":48,"q":0.33},{"s":"févr-20","t":60,"q":0.28},{"s":"févr-20","t":72,"q":0.24},{"s":"févr-20","t":84,"q":0.22},{"s":"févr-20","t":96,"q":0.2},{"s":"févr-20","t":108,"q":0.18},{"s":"févr-20","t":120,"q":0.17},
{"s":"HYD Normé","t":-120,"q":0.245},{"s":"HYD Normé","t":-108,"q":0.255},{"s":"HYD Normé","t":-96,"q":0.26},{"s":"HYD Normé","t":-84,"q":0.28},{"s":"HYD Normé","t":-72,"q":0.31},{"s":"HYD Normé","t":-60,"q":0.37},{"s":"HYD Normé","t":-48,"q":0.48},{"s":"HYD Normé","t":-36,"q":0.63},{"s":"HYD Normé","t":-24,"q":0.77},{"s":"HYD Normé","t":-12,"q":0.9},{"s":"HYD Normé","t":0,"q":1},{"s":"HYD Normé","t":12,"q":0.88},{"s":"HYD Normé","t":24,"q":0.72},{"s":"HYD Normé","t":36,"q":0.59},{"s":"HYD Normé","t":48,"q":0.52},{"s":"HYD Normé","t":60,"q":0.49},{"s":"HYD Normé","t":72,"q":0.46},{"s":"HYD Normé","t":84,"q":0.43},{"s":"HYD Normé","t":96,"q":0.39},{"s":"HYD Normé","t":108,"q":0.35},{"s":"HYD Normé","t":120,"q":0.32}
]
},
"hconcat":[
{
 "width":584,"height":302,
 "title":{"text":"Hydrogrammes centrés - La Moselle à Hauconcourt","frame":"group","dx":-9,"offset":18},
 "data":{"name":"L"},
 "layer":[
  {"data":{"values":[{}]},"mark":{"type":"rect","clip":false,"fill":"#93c96f"},
   "encoding":{
    "x":{"datum":-137.26,"type":"quantitative","scale":{"domain":[-120,120],"nice":false,"zero":false},
     "axis":{"orient":"top","values":[-120,-116,-112,-108,-104,-100,-96,-92,-88,-84,-80,-76,-72,-68,-64,-60,-56,-52,-48,-44,-40,-36,-32,-28,-24,-20,-16,-12,-8,-4,0,4,8,12,16,20,24,28,32,36,40,44,48,52,56,60,64,68,72,76,80,84,88,92,96,100,104,108,112,116,120],"grid":true,
      "gridColor":{"condition":{"test":"datum.value % 24 === 0","value":"#c48a80"},"value":"#a3cde6"},
      "gridDash":{"condition":{"test":"datum.value % 24 === 0","value":[]},"value":[3,2]},
      "gridWidth":1,"labels":false,"ticks":false,"domain":false,"title":null,"minExtent":0,"maxExtent":0,"zindex":0}},
    "x2":{"datum":124.93},
    "y":{"datum":-190.4,"type":"quantitative","scale":{"domain":[0,2500],"nice":false,"zero":false},"axis":null},
    "y2":{"datum":0}}},
  {"data":{"values":[{}]},"mark":{"type":"rect","clip":false,"fill":{"gradient":"linear","x1":0,"y1":0,"x2":0,"y2":1,"stops":[{"offset":0,"color":"#d6e2ef"},{"offset":0.55,"color":"#e4ebee"},{"offset":0.85,"color":"#cfe5c0"},{"offset":1,"color":"#a8d48a"}]}},
   "encoding":{
    "x":{"datum":-137.26,"type":"quantitative","scale":{"domain":[-120,120],"nice":false,"zero":false},"axis":null},
    "x2":{"datum":-120},
    "y":{"datum":0,"type":"quantitative","scale":{"domain":[0,2500],"nice":false,"zero":false},
     "axis":{"orient":"right","values":[0,100,200,300,400,500,600,700,800,900,1000,1100,1200,1300,1400,1500,1600,1700,1800,1900,2000,2100,2200,2300,2400,2500],"grid":true,
      "gridColor":{"condition":{"test":"datum.value % 500 === 0","value":"#c48a80"},"value":"#a3cde6"},
      "gridDash":{"condition":{"test":"datum.value % 500 === 0","value":[]},"value":[3,2]},
      "gridWidth":1,"labels":false,"ticks":false,"domain":false,"title":null,"minExtent":0,"maxExtent":0,"zindex":0}},
    "y2":{"datum":2500}}},
  {"data":{"values":[{}]},"mark":{"type":"rect","clip":false,"fill":{"gradient":"linear","x1":0,"y1":0,"x2":0,"y2":1,"stops":[{"offset":0,"color":"#d6e2ef"},{"offset":0.55,"color":"#e4ebee"},{"offset":0.85,"color":"#cfe5c0"},{"offset":1,"color":"#a8d48a"}]}},
   "encoding":{
    "x":{"datum":120,"type":"quantitative","scale":{"domain":[-120,120],"nice":false,"zero":false},"axis":null},
    "x2":{"datum":124.93},
    "y":{"datum":0,"type":"quantitative","scale":{"domain":[0,2500],"nice":false,"zero":false},"axis":null},
    "y2":{"datum":2500}}},
  {"mark":{"type":"line","strokeWidth":1.4},
   "encoding":{
    "x":{"field":"t","type":"quantitative","scale":{"domain":[-120,120],"nice":false,"zero":false},
     "axis":{"orient":"bottom","values":[-120,-96,-72,-48,-24,0,24,48,72,96,120],"grid":false,"ticks":false,"domain":false,"labelPadding":7,"labelFlush":false,"labelOverlap":false,"zindex":1,
      "title":"Temps (heure)","titleX":578,"titleY":-11,"titleAlign":"right","titleBaseline":"middle","titleAnchor":null}},
    "y":{"field":"q","type":"quantitative","scale":{"domain":[0,2500],"nice":false,"zero":false},
     "axis":{"orient":"left","values":[0,500,1000,1500,2000,2500],"format":"d","grid":false,"ticks":false,"domain":false,"labelPadding":10,"labelOverlap":false,"zindex":1,
      "title":"Débit (m3/s)","titleX":13,"titleY":8,"titleAngle":-90,"titleAlign":"right","titleBaseline":"middle","titleAnchor":null}},
    "color":{"field":"s","type":"nominal",
     "scale":{"domain":["févr-70","mai-70","nov-72","févr-79","oct-81","déc-82","avr-83","mai-83","mars-88","déc-88","févr-90","déc-91","déc-93","janv-94","janv-95","févr-97","oct-98","févr-99","mars-99","déc-99","déc-01","janv-04","oct-06","mars-08","déc-10","févr-16","juin-16","janv-18","févr-20"],
      "range":["#d9823f","#7f9db4","#d6a92e","#24508f","#5c9e5c","#2f6a34","#8cb9e3","#f3b083","#a8cbe9","#bdbdbd","#f7d443","#7a5c4a","#3b7dca","#f6c9a8","#a2d27f","#4c93d2","#4d7fc4","#e48c44","#a6a6a6","#f1c34d","#4a72c2","#63ad53","#1f5e93","#cccccc","#a45b22","#f9d66a","#8bb5dd","#a68b22","#28385c"]},
     "legend":{"title":null,"orient":"none","direction":"horizontal","legendX":-38,"legendY":324,"columns":8,"columnPadding":8.1}}}}
 ],
 "resolve":{"axis":{"x":"independent","y":"independent"}}
},
{
 "width":594,"height":300,
 "title":{"text":"Hydrogrammes normés - La Moselle à Hauconcourt","frame":"group","dx":-7,"offset":18},
 "data":{"name":"R"},
 "layer":[
  {"data":{"values":[{}]},"mark":{"type":"rect","clip":false,"fill":"#93c96f"},
   "encoding":{
    "x":{"datum":-133.33,"type":"quantitative","scale":{"domain":[-120,120],"nice":false,"zero":false},
     "axis":{"orient":"top","values":[-120,-116,-112,-108,-104,-100,-96,-92,-88,-84,-80,-76,-72,-68,-64,-60,-56,-52,-48,-44,-40,-36,-32,-28,-24,-20,-16,-12,-8,-4,0,4,8,12,16,20,24,28,32,36,40,44,48,52,56,60,64,68,72,76,80,84,88,92,96,100,104,108,112,116,120],"grid":true,
      "gridColor":{"condition":{"test":"datum.value % 24 === 0","value":"#6fa3cf"},"value":"#a3cde6"},
      "gridDash":{"condition":{"test":"datum.value % 24 === 0","value":[]},"value":[3,2]},
      "gridWidth":1,"labels":false,"ticks":false,"domain":false,"title":null,"minExtent":0,"maxExtent":0,"zindex":0}},
    "x2":{"datum":124.04},
    "y":{"datum":-0.08,"type":"quantitative","scale":{"domain":[0,1],"nice":false,"zero":false},"axis":null},
    "y2":{"datum":0}}},
  {"data":{"values":[{}]},"mark":{"type":"rect","clip":false,"fill":{"gradient":"linear","x1":0,"y1":0,"x2":0,"y2":1,"stops":[{"offset":0,"color":"#d6e2ef"},{"offset":0.55,"color":"#e4ebee"},{"offset":0.85,"color":"#cfe5c0"},{"offset":1,"color":"#a8d48a"}]}},
   "encoding":{
    "x":{"datum":-133.33,"type":"quantitative","scale":{"domain":[-120,120],"nice":false,"zero":false},"axis":null},
    "x2":{"datum":-120},
    "y":{"datum":0,"type":"quantitative","scale":{"domain":[0,1],"nice":false,"zero":false},
     "axis":{"orient":"right","values":[0,0.02,0.04,0.06,0.08,0.1,0.12,0.14,0.16,0.18,0.2,0.22,0.24,0.26,0.28,0.3,0.32,0.34,0.36,0.38,0.4,0.42,0.44,0.46,0.48,0.5,0.52,0.54,0.56,0.58,0.6,0.62,0.64,0.66,0.68,0.7,0.72,0.74,0.76,0.78,0.8,0.82,0.84,0.86,0.88,0.9,0.92,0.94,0.96,0.98,1],"grid":true,
      "gridColor":{"condition":{"test":"abs(datum.value*10 - round(datum.value*10)) < 0.001","value":"#a8978f"},"value":"#a3cde6"},
      "gridDash":{"condition":{"test":"abs(datum.value*10 - round(datum.value*10)) < 0.001","value":[]},"value":[3,2]},
      "gridWidth":1,"labels":false,"ticks":false,"domain":false,"title":null,"minExtent":0,"maxExtent":0,"zindex":0}},
    "y2":{"datum":1}}},
  {"data":{"values":[{}]},"mark":{"type":"rect","clip":false,"fill":{"gradient":"linear","x1":0,"y1":0,"x2":0,"y2":1,"stops":[{"offset":0,"color":"#d6e2ef"},{"offset":0.55,"color":"#e4ebee"},{"offset":0.85,"color":"#cfe5c0"},{"offset":1,"color":"#a8d48a"}]}},
   "encoding":{
    "x":{"datum":120,"type":"quantitative","scale":{"domain":[-120,120],"nice":false,"zero":false},"axis":null},
    "x2":{"datum":124.04},
    "y":{"datum":0,"type":"quantitative","scale":{"domain":[0,1],"nice":false,"zero":false},"axis":null},
    "y2":{"datum":1}}},
  {"transform":[{"filter":"datum.s !== 'HYD Normé'"}],
   "mark":{"type":"line","strokeWidth":1.4},
   "encoding":{
    "x":{"field":"t","type":"quantitative","scale":{"domain":[-120,120],"nice":false,"zero":false},
     "axis":{"orient":"bottom","values":[-120,-96,-72,-48,-24,0,24,48,72,96,120],"grid":false,"ticks":false,"domain":false,"labelPadding":7,"labelFlush":false,"labelOverlap":false,"zindex":1,
      "title":"Temps (heure)","titleX":586,"titleY":-12,"titleAlign":"right","titleBaseline":"middle","titleAnchor":null}},
    "y":{"field":"q","type":"quantitative","scale":{"domain":[0,1],"nice":false,"zero":false},
     "axis":{"orient":"left","values":[0,0.1,0.2,0.3,0.4,0.5,0.6,0.7,0.8,0.9,1],"format":"~g","grid":false,"ticks":false,"domain":false,"labelPadding":10,"labelOverlap":false,"zindex":1,
      "title":"Débit normé","titleX":13,"titleY":8,"titleAngle":-90,"titleAlign":"right","titleBaseline":"middle","titleAnchor":null}},
    "color":{"field":"s","type":"nominal",
     "scale":{"domain":["févr-70","mai-70","nov-72","févr-79","déc-82","avr-83","mai-83","déc-88","févr-90","déc-91","déc-93","janv-94","janv-95","févr-97","oct-98","févr-99","mars-99","déc-99","déc-01","janv-04","oct-06","déc-10","juin-16","janv-18","févr-20","HYD Normé"],
      "range":["#5b9bd5","#ed7d31","#a5a5a5","#ffc000","#5b5fc7","#ffd347","#70ad47","#264478","#9e480e","#e8742a","#636363","#cccccc","#997300","#2b3d6e","#43682b","#7cafdd","#f4a26a","#b7b7b7","#698ed0","#8cc168","#2e75b6","#7f7f7f","#a9d18e","#c9a227","#2f5597","#000000"]},
     "legend":{"title":null,"orient":"none","direction":"horizontal","legendX":-11,"legendY":321,"columns":7,"columnPadding":-3.6,"symbolStrokeWidth":2}}}},
  {"transform":[{"filter":"datum.s === 'HYD Normé'"}],
   "mark":{"type":"line","strokeWidth":4.5},
   "encoding":{
    "x":{"field":"t","type":"quantitative","scale":{"domain":[-120,120],"nice":false,"zero":false},"axis":null},
    "y":{"field":"q","type":"quantitative","scale":{"domain":[0,1],"nice":false,"zero":false},"axis":null},
    "color":{"field":"s","type":"nominal"}}}
 ],
 "resolve":{"axis":{"x":"independent","y":"independent"}}
}
],
"resolve":{"scale":{"x":"independent","y":"independent","color":"independent"},"legend":{"color":"independent"}}
}
